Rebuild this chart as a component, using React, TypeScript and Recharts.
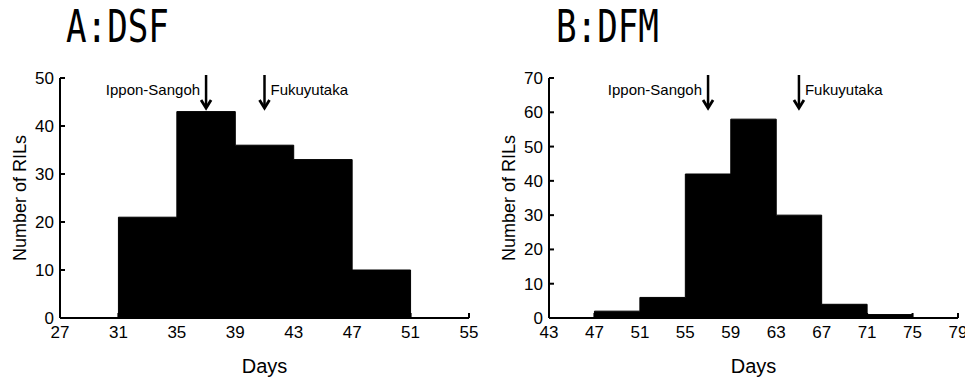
import { ComposedChart, Area, XAxis, YAxis, ReferenceLine, Label } from 'recharts';

// bin edges (days) and counts per bin (bin starts at the edge with the same index)
const edgesDSF = [27, 31, 35, 39, 43, 47, 51, 55];
const countsDSF = [0, 21, 43, 36, 33, 10, 0];
const yTicksDSF = [0, 10, 20, 30, 40, 50];
const parentsDSF = [
  { name: 'Ippon-Sangoh', day: 37, side: 'left' },
  { name: 'Fukuyutaka', day: 41, side: 'right' },
];

const edgesDFM = [43, 47, 51, 55, 59, 63, 67, 71, 75, 79];
const countsDFM = [0, 2, 6, 42, 58, 30, 4, 1, 0];
const yTicksDFM = [0, 10, 20, 30, 40, 50, 60, 70];
const parentsDFM = [
  { name: 'Ippon-Sangoh', day: 57, side: 'left' },
  { name: 'Fukuyutaka', day: 65, side: 'right' },
];

const font = "'Liberation Sans', Arial, sans-serif";

const arrowShape = (name: string, side: string) => (props: any) => {
  const { x1, y1, y2 } = props;
  const top = Math.min(y1, y2);
  const x = x1;
  const start = top - 3;
  const tip = top + 30;
  return (
    <g>
      <line x1={x} y1={start} x2={x} y2={tip - 1} stroke="#000" strokeWidth={2.5} />
      <polyline
        points={`${x - 5},${tip - 8} ${x},${tip} ${x + 5},${tip - 8}`}
        fill="none"
        stroke="#000"
        strokeWidth={2.8}
      />
      <text
        x={side === 'left' ? x - 6 : x + 6}
        y={top + 17}
        textAnchor={side === 'left' ? 'end' : 'start'}
        fontSize={15}
        fontFamily={font}
        fill="#000"
      >
        {name}
      </text>
    </g>
  );
};

const yTitle = (cx: number) => (props: any) => {
  const vb = props.viewBox || {};
  const cy = (vb.y ?? 78) + (vb.height ?? 240) / 2;
  return (
    <text
      x={cx}
      y={cy}
      transform={`rotate(-90, ${cx}, ${cy})`}
      textAnchor="middle"
      dominantBaseline="central"
      fontSize={18}
      fontFamily={font}
      fill="#000"
    >
      Number of RILs
    </text>
  );
};

interface HistProps {
  edges: number[];
  counts: number[];
  yTicks: number[];
  parents: { name: string; day: number; side: string }[];
  width: number;
  axisWidth: number;
  right: number;
}

const Histogram = ({ edges, counts, yTicks, parents, width, axisWidth, right }: HistProps) => {
  const data = edges.map((d, i) => ({ day: d, n: counts[i] ?? 0 }));
  return (
    <ComposedChart
      width={width}
      height={380}
      data={data}
      margin={{ top: 78, right, bottom: 0, left: 0 }}
      style={{ fontFamily: font }}
    >
      <XAxis
        dataKey="day"
        type="number"
        domain={[edges[0], edges[edges.length - 1]]}
        ticks={edges}
        interval={0}
        height={62}
        tickSize={-5}
        tickMargin={13}
        axisLine={{ stroke: '#000', strokeWidth: 2 }}
        tickLine={{ stroke: '#000', strokeWidth: 2 }}
        tick={{ fill: '#000', fontSize: 17 }}
      >
        <Label value="Days" position="insideBottom" offset={7} fill="#000" fontSize={20} />
      </XAxis>
      <YAxis
        type="number"
        domain={[0, yTicks[yTicks.length - 1]]}
        ticks={yTicks}
        interval={0}
        width={axisWidth}
        tickSize={-5}
        tickMargin={11}
        axisLine={{ stroke: '#000', strokeWidth: 2 }}
        tickLine={{ stroke: '#000', strokeWidth: 2 }}
        tick={{ fill: '#000', fontSize: 17 }}
      >
        <Label content={yTitle(axisWidth - 40)} />
      </YAxis>
      <Area
        type="stepAfter"
        dataKey="n"
        stroke="#000"
        strokeWidth={1}
        fill="#000"
        fillOpacity={1}
        isAnimationActive={false}
      />
      {parents.map((p) => (
        <ReferenceLine
          key={p.name}
          x={p.day}
          ifOverflow="visible"
          shape={arrowShape(p.name, p.side)}
        />
      ))}
    </ComposedChart>
  );
};

const titleStyle = (left: number): React.CSSProperties => ({
  position: 'absolute',
  left,
  top: 4,
  fontFamily: "'DejaVu Sans Mono', monospace",
  fontSize: 45,
  lineHeight: '45px',
  transform: 'scaleX(0.76)',
  transformOrigin: 'left top',
  whiteSpace: 'pre',
  color: '#000',
});

export default function App() {
  return (
    <div style={{ position: 'absolute', left: 0, top: 0, width: 965, height: 380, background: '#fff' }}>
      <div style={titleStyle(66)}>A:DSF</div>
      <div style={titleStyle(556)}>B:DFM</div>
      <div style={{ position: 'absolute', left: 0, top: 0 }}>
        <Histogram
          edges={edgesDSF}
          counts={countsDSF}
          yTicks={yTicksDSF}
          parents={parentsDSF}
          width={480}
          axisWidth={60}
          right={11}
        />
      </div>
      <div style={{ position: 'absolute', left: 480, top: 0 }}>
        <Histogram
          edges={edgesDFM}
          counts={countsDFM}
          yTicks={yTicksDFM}
          parents={parentsDFM}
          width={485}
          axisWidth={69}
          right={7}
        />
      </div>
    </div>
  );
}
